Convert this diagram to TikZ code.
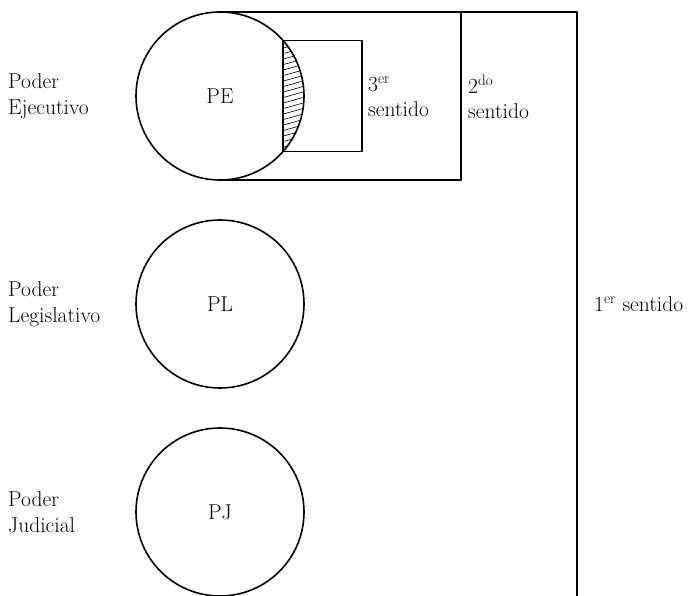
\documentclass[tikz,border=0pt]{standalone}
\usetikzlibrary{calc}
\usepackage{tkz-euclide}

\tikzset{
  poderlbl/.style={anchor=west,align=left,inner sep=0pt,font=\fontsize{21.5}{26}\selectfont},
  sentlbl/.style={anchor=west,align=left,inner sep=0pt,font=\fontsize{21.5}{25}\selectfont},
  siglbl/.style={inner sep=0pt,font=\fontsize{21.5}{24}\selectfont},
  hatch/.style={line width=0.6pt},
  thick line/.style={line width=1.6pt,color=black}
}

\begin{document}
\begin{tikzpicture}[x=1pt,y=1pt]
\clip (0,0) rectangle (697,596);
\tkzSetUpLine[line width=1.6pt,color=black]

\tkzDefPoints{220/500/E,220/584/Et,220/416/Eb,220/292/L,220/376/Lt,220/84/J,220/168/Jt}
\tkzDefPoints{577/584/A,577/-4/B,461/584/C,461/416/D}
\tkzDefPoints{283/555.6/T1,362/555.6/T2,362/444.4/T3,283/444.4/T4}

% hatched segment of PE
\begin{scope}
  \clip (E) circle (84);
  \clip (T4) rectangle (320,600);
  \foreach \y in {426,431.5,...,570}
    \draw[hatch] (280,\y) -- (312,\y+9);
\end{scope}

\tkzDrawCircles[thick line](E,Et L,Lt J,Jt)

% 1er, 2do and 3er sentido
\tkzDrawSegments[thick line](Et,A A,B C,D D,Eb)
\draw[thick line] (T1) -- (T2) -- (T3) -- (T4) -- cycle;

\node[siglbl] (PE) at (E) {PE};
\node[siglbl] (PL) at (L) {PL};
\node[siglbl] (PJ) at (J) {PJ};

\node[poderlbl] (lblEjec) at (8,500) {Poder\\Ejecutivo};
\node[poderlbl] (lblLeg) at (8,292) {Poder\\Legislativo};
\node[poderlbl] (lblJud) at (8,84) {Poder\\Judicial};

\node[sentlbl] (sent3) at (368,499) {3\textsuperscript{er}\\sentido};
\node[sentlbl] (sent2) at (468,499) {2\textsuperscript{do}\\sentido};
\node[sentlbl] (sent1) at (594,292) {1\textsuperscript{er} sentido};

\end{tikzpicture}
\end{document}
